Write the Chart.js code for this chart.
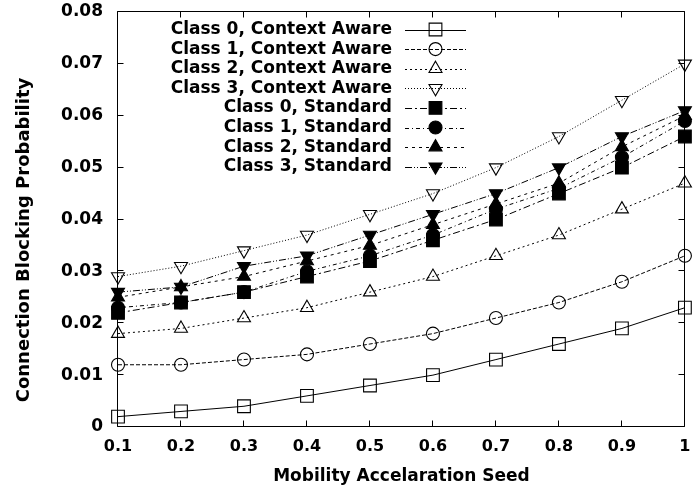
<!DOCTYPE html>
<html>
<head>
<meta charset="utf-8">
<script src="https://cdn.jsdelivr.net/npm/chart.js@4.4.1/dist/chart.umd.min.js"></script>
<style>
  html, body { margin: 0; padding: 0; background: #ffffff; }
  canvas { display: block; }
</style>
</head>
<body>
<canvas id="chart" width="695" height="490"></canvas>
<script>
// Mobility acceleration seeds (x categories) and y tick labels
const seeds = ['0.1', '0.2', '0.3', '0.4', '0.5', '0.6', '0.7', '0.8', '0.9', '1'];
const yTickLabels = ['0', '0.01', '0.02', '0.03', '0.04', '0.05', '0.06', '0.07', '0.08'];

// Connection blocking probability per traffic class
const class0Aware = [0.002, 0.003, 0.004, 0.006, 0.008, 0.010, 0.013, 0.016, 0.019, 0.023];
const class1Aware = [0.012, 0.012, 0.013, 0.014, 0.016, 0.018, 0.021, 0.024, 0.028, 0.033];
const class2Aware = [0.018, 0.019, 0.021, 0.023, 0.026, 0.029, 0.033, 0.037, 0.042, 0.047];
const class3Aware = [0.029, 0.031, 0.034, 0.037, 0.041, 0.045, 0.050, 0.056, 0.063, 0.070];
const class0Std   = [0.022, 0.024, 0.026, 0.029, 0.032, 0.036, 0.040, 0.045, 0.050, 0.056];
const class1Std   = [0.023, 0.024, 0.026, 0.030, 0.033, 0.037, 0.042, 0.046, 0.052, 0.059];
const class2Std   = [0.025, 0.027, 0.029, 0.032, 0.035, 0.039, 0.043, 0.047, 0.054, 0.060];
const class3Std   = [0.026, 0.027, 0.031, 0.033, 0.037, 0.041, 0.045, 0.050, 0.056, 0.061];

const seriesLabels = [
  'Class 0, Context Aware', 'Class 1, Context Aware', 'Class 2, Context Aware', 'Class 3, Context Aware',
  'Class 0, Standard', 'Class 1, Standard', 'Class 2, Standard', 'Class 3, Standard'
];
const seriesData = [class0Aware, class1Aware, class2Aware, class3Aware, class0Std, class1Std, class2Std, class3Std];

// Line and marker style for each series
const looks = [
  { dash: [],                 shape: 'rect',     rot: 0,   r: 9,   filled: false },
  { dash: [4, 2],             shape: 'circle',   rot: 0,   r: 6.5, filled: false },
  { dash: [2, 3],             shape: 'triangle', rot: 0,   r: 7.5, filled: false },
  { dash: [1, 2],             shape: 'triangle', rot: 180, r: 7.5, filled: false },
  { dash: [7, 3, 2, 3],       shape: 'rect',     rot: 0,   r: 9,   filled: true },
  { dash: [4, 3, 1, 3],       shape: 'circle',   rot: 0,   r: 6.5, filled: true },
  { dash: [3, 4],             shape: 'triangle', rot: 0,   r: 7.5, filled: true },
  { dash: [7, 2, 1, 2, 1, 2], shape: 'triangle', rot: 180, r: 7.5, filled: true }
];

const FONT = '"DejaVu Sans", "Liberation Sans", sans-serif';

const datasets = seriesLabels.map((label, i) => ({
  label,
  data: seriesData[i],
  borderColor: '#000',
  borderWidth: 1,
  borderDash: looks[i].dash,
  tension: 0,
  fill: false,
  pointStyle: looks[i].shape,
  pointRotation: looks[i].rot,
  pointRadius: looks[i].r,
  pointHoverRadius: looks[i].r,
  pointBorderWidth: 1.1,
  pointBorderColor: '#000',
  pointBackgroundColor: looks[i].filled ? '#000' : 'rgba(0,0,0,0)',
  clip: false
}));

// Box border with inward tick marks on all four sides, plus the rotated y title
const framePlugin = {
  id: 'frame',
  afterDatasetsDraw(chart) {
    const { ctx, chartArea: a, scales: { x, y } } = chart;
    const L = Math.round(a.left) - 0.5, R = Math.round(a.right) - 0.5;
    const T = Math.round(a.top) - 0.5, B = Math.round(a.bottom) - 0.5;
    const len = 6;
    ctx.save();
    ctx.setLineDash([]);
    ctx.strokeStyle = '#000';
    ctx.lineWidth = 1;
    ctx.beginPath();
    ctx.rect(L, T, R - L, B - T);
    x.ticks.forEach((t, i) => {
      const px = Math.round(x.getPixelForTick(i)) - 0.5;
      ctx.moveTo(px, B); ctx.lineTo(px, B - len);
      ctx.moveTo(px, T); ctx.lineTo(px, T + len);
    });
    y.ticks.forEach((t, i) => {
      const py = Math.round(y.getPixelForTick(i)) - 0.5;
      ctx.moveTo(L, py); ctx.lineTo(L + len, py);
      ctx.moveTo(R, py); ctx.lineTo(R - len, py);
    });
    ctx.stroke();

    ctx.translate(24, 240);
    ctx.rotate(-Math.PI / 2);
    ctx.fillStyle = '#000';
    ctx.font = 'bold 18px ' + FONT;
    ctx.textAlign = 'center';
    ctx.textBaseline = 'middle';
    ctx.fillText('Connection Blocking Probability', 0, 0);
    ctx.restore();
  }
};

// Key: right-aligned names, each followed by a line sample with its marker
const keyPlugin = {
  id: 'seriesKey',
  afterDraw(chart) {
    const ctx = chart.ctx;
    const textRight = 392, lineStart = 405, lineEnd = 466, markX = 435.5;
    ctx.save();
    ctx.font = 'bold 17px ' + FONT;
    ctx.textAlign = 'right';
    ctx.textBaseline = 'middle';
    chart.data.datasets.forEach((ds, i) => {
      const yy = 29.5 + i * 19.6;
      ctx.fillStyle = '#000';
      ctx.fillText(ds.label, textRight, yy);
      ctx.strokeStyle = '#000';
      ctx.lineWidth = 1;
      ctx.setLineDash(ds.borderDash);
      ctx.beginPath();
      ctx.moveTo(lineStart, Math.round(yy) + 0.5);
      ctx.lineTo(lineEnd, Math.round(yy) + 0.5);
      ctx.stroke();
      ctx.setLineDash([]);
      ctx.fillStyle = ds.pointBackgroundColor;
      ctx.lineWidth = ds.pointBorderWidth;
      Chart.helpers.drawPoint(ctx, {
        pointStyle: ds.pointStyle,
        rotation: ds.pointRotation,
        radius: ds.pointRadius,
        borderWidth: ds.pointBorderWidth
      }, markX, yy);
    });
    ctx.restore();
  }
};

new Chart(document.getElementById('chart'), {
  type: 'line',
  data: { labels: seeds, datasets },
  options: {
    responsive: false,
    animation: false,
    devicePixelRatio: 1,
    layout: { padding: { left: 0, top: 12, right: 3, bottom: 0 } },
    plugins: { legend: { display: false }, tooltip: { enabled: false } },
    scales: {
      x: {
        type: 'category',
        offset: false,
        grid: { display: false, drawTicks: false },
        border: { display: false },
        ticks: {
          color: '#000',
          font: { family: FONT, size: 16, weight: 'bold' },
          padding: 10,
          maxRotation: 0,
          autoSkip: false
        },
        title: {
          display: true,
          text: 'Mobility Accelaration Seed',
          color: '#000',
          font: { family: FONT, size: 17, weight: 'bold' },
          padding: { top: 0, bottom: 3 }
        },
        afterFit(scale) {
          scale.height = 63;
          scale.paddingLeft = 0;
          scale.paddingRight = 0;
        }
      },
      y: {
        min: 0,
        max: 0.08,
        grid: { display: false, drawTicks: false },
        border: { display: false },
        ticks: {
          stepSize: 0.01,
          color: '#000',
          font: { family: FONT, size: 17, weight: 'bold' },
          padding: 15,
          callback: (value, index) => yTickLabels[index]
        },
        afterFit(scale) {
          scale.width = 118;
          scale.paddingTop = 0;
          scale.paddingBottom = 0;
        }
      }
    }
  },
  plugins: [framePlugin, keyPlugin]
});
</script>
</body>
</html>
